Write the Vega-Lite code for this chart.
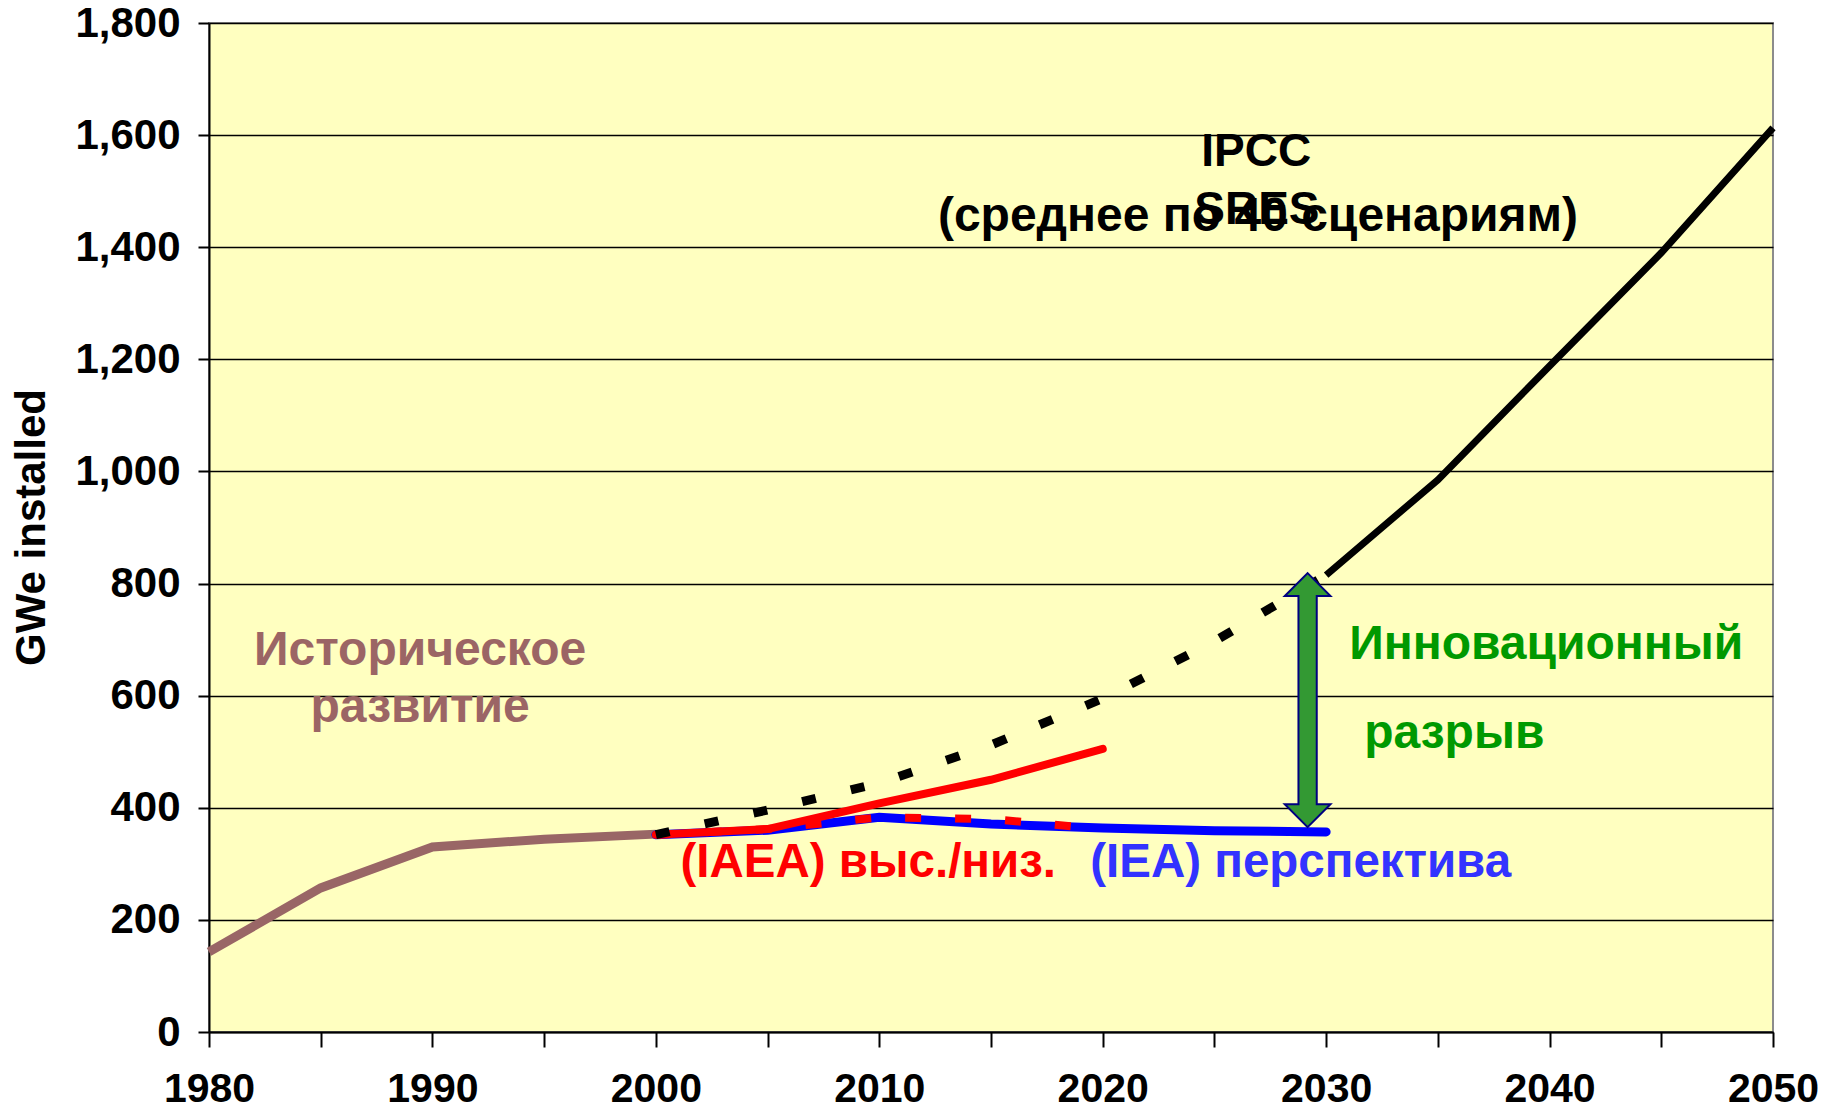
{
  "$schema": "https://vega.github.io/schema/vega-lite/v6.json",
  "width": 1564,
  "height": 1009,
  "autosize": {"type": "none"},
  "padding": {"left": 209, "top": 23, "right": 50, "bottom": 79},
  "background": "white",
  "config": {
    "view": {"fill": "#FFFFC0", "stroke": "#8c8c8c", "strokeWidth": 2},
    "font": "Liberation Sans"
  },
  "datasets": {
    "series": [
      {"series": "hist", "year": 1980, "value": 143},
      {"series": "hist", "year": 1985, "value": 257},
      {"series": "hist", "year": 1990, "value": 330},
      {"series": "hist", "year": 1995, "value": 344},
      {"series": "hist", "year": 2000, "value": 353},
      {"series": "iea", "year": 2000, "value": 352},
      {"series": "iea", "year": 2005, "value": 360},
      {"series": "iea", "year": 2010, "value": 383},
      {"series": "iea", "year": 2015, "value": 371},
      {"series": "iea", "year": 2020, "value": 364},
      {"series": "iea", "year": 2025, "value": 359},
      {"series": "iea", "year": 2030, "value": 357},
      {"series": "iaea_high", "year": 2000, "value": 352},
      {"series": "iaea_high", "year": 2005, "value": 362},
      {"series": "iaea_high", "year": 2010, "value": 408},
      {"series": "iaea_high", "year": 2015, "value": 450},
      {"series": "iaea_high", "year": 2020, "value": 505},
      {"series": "iaea_low", "year": 2000, "value": 352},
      {"series": "iaea_low", "year": 2005, "value": 362},
      {"series": "iaea_low", "year": 2010, "value": 383},
      {"series": "iaea_low", "year": 2015, "value": 380},
      {"series": "iaea_low", "year": 2020, "value": 362},
      {"series": "ipcc_early", "year": 2000, "value": 352},
      {"series": "ipcc_early", "year": 2005, "value": 396},
      {"series": "ipcc_early", "year": 2010, "value": 444},
      {"series": "ipcc_early", "year": 2015, "value": 512},
      {"series": "ipcc_early", "year": 2020, "value": 595},
      {"series": "ipcc_early", "year": 2025, "value": 697},
      {"series": "ipcc_early", "year": 2030, "value": 815},
      {"series": "ipcc", "year": 2030, "value": 815},
      {"series": "ipcc", "year": 2035, "value": 985},
      {"series": "ipcc", "year": 2040, "value": 1188},
      {"series": "ipcc", "year": 2045, "value": 1390},
      {"series": "ipcc", "year": 2050, "value": 1613}
    ],
    "arrow": [{"year": 2029.17, "value": 592}],
    "labels": [
      {"key": "hist", "year": 1989.45, "value": 655, "label": "Историческое"},
      {"key": "hist", "year": 1989.45, "value": 553, "label": "развитие"},
      {"key": "iaea", "year": 2001.1, "value": 277, "label": "(IAEA) выс./низ."},
      {"key": "iea", "year": 2019.44, "value": 277, "label": "(IEA) перспектива"},
      {"key": "gap", "year": 2031.03, "value": 665, "label": "Инновационный"},
      {"key": "gap", "year": 2031.7, "value": 507, "label": "разрыв"},
      {"key": "ipcc", "year": 2026.87, "value": 1545, "label": "IPCC"},
      {"key": "ipcc", "year": 2026.9, "value": 1441, "label": "SRES"},
      {"key": "ipcc2", "year": 2026.95, "value": 1429, "label": "(среднее по 40 сценариям)"}
    ]
  },
  "encoding": {
    "x": {
      "field": "year", "type": "quantitative",
      "scale": {"domain": [1980, 2050], "nice": false, "zero": false},
      "axis": {
        "values": [1980, 1985, 1990, 1995, 2000, 2005, 2010, 2015, 2020, 2025, 2030, 2035, 2040, 2045, 2050],
        "labelExpr": "datum.value % 10 === 0 ? format(datum.value, 'd') : ''",
        "grid": false, "title": null,
        "tickSize": 15, "tickColor": "black", "tickWidth": 2,
        "domainColor": "black", "domainWidth": 2,
        "labelFont": "Liberation Sans", "labelFontWeight": "bold", "labelFontSize": 41,
        "labelColor": "black", "labelPadding": 42, "labelBaseline": "middle",
        "labelFlush": false, "labelOverlap": false
      }
    },
    "y": {
      "field": "value", "type": "quantitative",
      "scale": {"domain": [0, 1800], "nice": false},
      "axis": {
        "values": [0, 200, 400, 600, 800, 1000, 1200, 1400, 1600, 1800],
        "format": ",d",
        "grid": true, "gridColor": "black", "gridWidth": 1.5, "gridOpacity": 1,
        "tickSize": 11, "tickColor": "black", "tickWidth": 2,
        "domainColor": "black", "domainWidth": 2,
        "labelFont": "Liberation Sans", "labelFontWeight": "bold", "labelFontSize": 42,
        "labelColor": "black", "labelPadding": 18, "labelBaseline": "middle",
        "labelFlush": false, "labelOverlap": false,
        "title": "GWe installed",
        "titleFont": "Liberation Sans", "titleFontWeight": "bold", "titleFontSize": 42,
        "titleColor": "black", "titleAngle": -90, "titleX": -165, "titleY": 504,
        "titleAlign": "center", "titleBaseline": "alphabetic"
      }
    }
  },
  "layer": [
    {
      "data": {"name": "series"},
      "transform": [{"filter": "datum.series === 'hist'"}],
      "mark": {"type": "line", "color": "#996666", "strokeWidth": 9}
    },
    {
      "data": {"name": "series"},
      "transform": [{"filter": "datum.series === 'iea'"}],
      "mark": {"type": "line", "color": "#0000FF", "strokeWidth": 9, "strokeCap": "round"}
    },
    {
      "data": {"name": "series"},
      "transform": [{"filter": "datum.series === 'iaea_high'"}],
      "mark": {"type": "line", "color": "#FF0000", "strokeWidth": 8, "strokeCap": "round"}
    },
    {
      "data": {"name": "series"},
      "transform": [{"filter": "datum.series === 'iaea_low'"}],
      "mark": {"type": "line", "color": "#FF0000", "strokeWidth": 8, "strokeDash": [16, 34]}
    },
    {
      "data": {"name": "series"},
      "transform": [{"filter": "datum.series === 'ipcc_early'"}],
      "mark": {"type": "line", "color": "black", "strokeWidth": 9, "strokeDash": [14, 36]}
    },
    {
      "data": {"name": "series"},
      "transform": [{"filter": "datum.series === 'ipcc'"}],
      "mark": {"type": "line", "color": "black", "strokeWidth": 7}
    },
    {
      "data": {"name": "arrow"},
      "mark": {
        "type": "point",
        "shape": "M0,-1L0.18,-0.82L0.072,-0.82L0.072,0.82L0.18,0.82L0,1L-0.18,0.82L-0.072,0.82L-0.072,-0.82L-0.18,-0.82Z",
        "size": 64516, "filled": true, "fill": "#339933", "stroke": "#000080",
        "strokeWidth": 2, "opacity": 1
      }
    },
    {
      "data": {"name": "labels"},
      "transform": [{"filter": "datum.key === 'hist'"}],
      "mark": {"type": "text", "align": "center", "baseline": "alphabetic", "fontSize": 48, "fontWeight": "bold", "color": "#9B6565"},
      "encoding": {"text": {"field": "label"}}
    },
    {
      "data": {"name": "labels"},
      "transform": [{"filter": "datum.key === 'iaea'"}],
      "mark": {"type": "text", "align": "left", "baseline": "alphabetic", "fontSize": 47.5, "fontWeight": "bold", "color": "#FF0000"},
      "encoding": {"text": {"field": "label"}}
    },
    {
      "data": {"name": "labels"},
      "transform": [{"filter": "datum.key === 'iea'"}],
      "mark": {"type": "text", "align": "left", "baseline": "alphabetic", "fontSize": 47.5, "fontWeight": "bold", "color": "#3333FF"},
      "encoding": {"text": {"field": "label"}}
    },
    {
      "data": {"name": "labels"},
      "transform": [{"filter": "datum.key === 'gap'"}],
      "mark": {"type": "text", "align": "left", "baseline": "alphabetic", "fontSize": 48, "fontWeight": "bold", "color": "#009900"},
      "encoding": {"text": {"field": "label"}}
    },
    {
      "data": {"name": "labels"},
      "transform": [{"filter": "datum.key === 'ipcc'"}],
      "mark": {"type": "text", "align": "center", "baseline": "alphabetic", "fontSize": 46, "fontWeight": "bold", "color": "black"},
      "encoding": {"text": {"field": "label"}}
    },
    {
      "data": {"name": "labels"},
      "transform": [{"filter": "datum.key === 'ipcc2'"}],
      "mark": {"type": "text", "align": "center", "baseline": "alphabetic", "fontSize": 48, "fontWeight": "bold", "color": "black"},
      "encoding": {"text": {"field": "label"}}
    }
  ]
}
